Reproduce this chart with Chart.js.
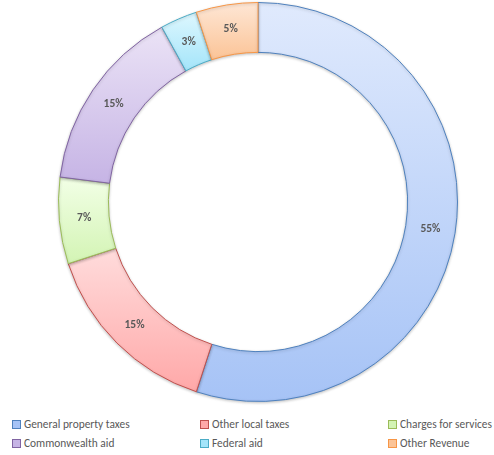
<!DOCTYPE html>
<html>
<head>
<meta charset="utf-8">
<script src="https://cdn.jsdelivr.net/npm/chart.js@4/dist/chart.umd.min.js"></script>
<style>
  html, body { margin: 0; padding: 0; background: #fff; }
  #wrap { position: relative; width: 494px; height: 455px; overflow: hidden; }
  #chart { position: absolute; left: 0; top: 0; }
  .legend { position: absolute; left: 0; top: 418px; width: 494px; font-family: Carlito, Calibri, Lato, sans-serif; font-size: 11.4px; color: #595959; }
  .legend .item { position: absolute; white-space: nowrap; line-height: 13px; }
  .legend .box { display: inline-block; width: 7px; height: 7px; border: 1px solid; margin-right: 3px; vertical-align: -1px; }
</style>
</head>
<body>
<div id="wrap">
  <canvas id="chart" width="494" height="410"></canvas>
  <div class="legend" id="legend"></div>
</div>
<script>
// 收入来源构成
const categories = ['General property taxes', 'Other local taxes', 'Charges for services', 'Commonwealth aid', 'Federal aid', 'Other Revenue'];
const shares = [55, 15, 7, 15, 3, 5];

// 渐变色：上浅下深，边框用深色
const topColors = ['#e0eafd', '#ffdcdc', '#f2ffe6', '#ebe3f6', '#def7fe', '#fee7d6'];
const bottomColors = ['#a6c3f6', '#ffa8a8', '#d3f4b4', '#c6b4e5', '#a4e5fa', '#fbc497'];
const borderColors = ['#4f81bd', '#c0504d', '#9bbb59', '#8064a2', '#4bacc6', '#f79646'];
const CUTOUT = 0.75;

// 根据扇区的外形范围生成纵向渐变
function sliceGradient(context) {
    const chart = context.chart;
    const area = chart.chartArea;
    const i = context.dataIndex;
    if (!area) return topColors[i];
    const cx = (area.left + area.right) / 2;
    const cy = (area.top + area.bottom) / 2;
    const outer = Math.min(area.right - area.left, area.bottom - area.top) / 2;
    const inner = outer * CUTOUT;
    const total = shares.reduce(function(a, b) { return a + b; }, 0);
    let start = 0;
    for (let k = 0; k < i; k++) start += shares[k];
    const a0 = -Math.PI / 2 + start / total * Math.PI * 2;
    const a1 = a0 + shares[i] / total * Math.PI * 2;
    let minY = Infinity, maxY = -Infinity;
    for (let s = 0; s <= 60; s++) {
        const a = a0 + (a1 - a0) * s / 60;
        [outer, inner].forEach(function(r) {
            const y = cy + Math.sin(a) * r;
            minY = Math.min(minY, y);
            maxY = Math.max(maxY, y);
        });
    }
    const g = chart.ctx.createLinearGradient(0, minY, 0, maxY);
    g.addColorStop(0, topColors[i]);
    g.addColorStop(1, bottomColors[i]);
    return g;
}

// 环的淡阴影
const softShadow = {
    id: 'softShadow',
    beforeDatasetsDraw(chart) {
        const ctx = chart.ctx;
        ctx.save();
        ctx.shadowColor = 'rgba(0, 0, 0, 0.22)';
        ctx.shadowBlur = 3;
        ctx.shadowOffsetY = 1;
    },
    afterDatasetsDraw(chart) {
        chart.ctx.restore();
    }
};

// 在环上标出百分比
const percentLabels = {
    id: 'percentLabels',
    afterDatasetsDraw(chart) {
        const ctx = chart.ctx;
        const meta = chart.getDatasetMeta(0);
        ctx.save();
        ctx.shadowColor = 'transparent';
        ctx.font = 'bold 11.5px Carlito, Calibri, Lato, sans-serif';
        ctx.fillStyle = '#595959';
        ctx.textAlign = 'center';
        ctx.textBaseline = 'middle';
        meta.data.forEach(function(arc, i) {
            const p = arc.tooltipPosition();
            ctx.fillText(shares[i] + '%', p.x, p.y);
        });
        ctx.restore();
    }
};

new Chart(document.getElementById('chart'), {
    type: 'doughnut',
    data: {
        labels: categories,
        datasets: [{
            data: shares,
            backgroundColor: sliceGradient,
            borderColor: borderColors,
            borderWidth: 1
        }]
    },
    options: {
        responsive: false,
        animation: false,
        cutout: (CUTOUT * 100) + '%',
        layout: { padding: { left: 58, right: 36, top: 2, bottom: 8 } },
        plugins: {
            legend: { display: false },
            tooltip: { enabled: false }
        }
    },
    plugins: [softShadow, percentLabels]
});

// 底部图例，三列两行
const legendEl = document.getElementById('legend');
const colX = [12, 200, 388];
categories.forEach(function(name, i) {
    const item = document.createElement('div');
    item.className = 'item';
    item.style.left = colX[i % 3] + 'px';
    item.style.top = (Math.floor(i / 3) * 19) + 'px';
    const box = document.createElement('span');
    box.className = 'box';
    box.style.borderColor = borderColors[i];
    box.style.background = bottomColors[i];
    item.appendChild(box);
    item.appendChild(document.createTextNode(name));
    legendEl.appendChild(item);
});
</script>
</body>
</html>
